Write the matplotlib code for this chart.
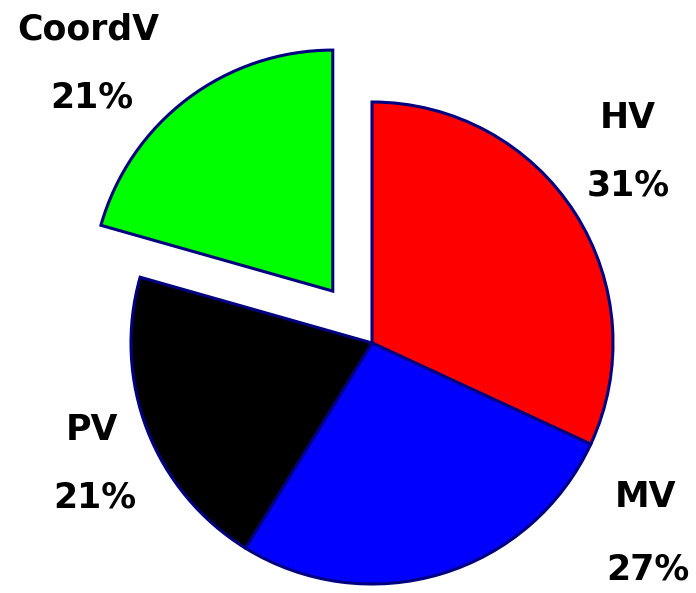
import matplotlib
matplotlib.use("Agg")
import matplotlib.pyplot as plt

categories = ["HV", "MV", "PV", "CoordV"]
shares = [31.9, 26.9, 20.6, 20.6]          # wedge sizes
pct_labels = ["31%", "27%", "21%", "21%"]  # percentages as printed
colors = ["#ff0000", "#0000ff", "#000000", "#00ff00"]
explode_frac = [0, 0, 0, 0.27]

W, H = 696, 593
R = 241
fig = plt.figure(figsize=(W / 100, H / 100), dpi=100)
ax = fig.add_axes([0, 0, 1, 1])
ax.pie(shares, colors=colors, explode=[e * R for e in explode_frac],
       startangle=90, counterclock=False,
       center=(372, H - 343), radius=R,
       wedgeprops=dict(edgecolor="#000080", linewidth=2.2))
ax.set_xlim(0, W)
ax.set_ylim(0, H)
ax.set_aspect("equal")
ax.axis("off")

label_pos = {"HV": (628, 118, 628, 185), "MV": (645, 497, 648, 570),
             "PV": (92, 430, 95, 497), "CoordV": (88, 30, 92, 97)}
for cat, lab in zip(categories, pct_labels):
    x1, y1, x2, y2 = label_pos[cat]
    ax.text(x1, H - y1, cat, ha="center", va="center", fontsize=25, fontweight="bold")
    ax.text(x2, H - y2, lab, ha="center", va="center", fontsize=25, fontweight="bold")

fig.savefig("out.png", dpi=100)
